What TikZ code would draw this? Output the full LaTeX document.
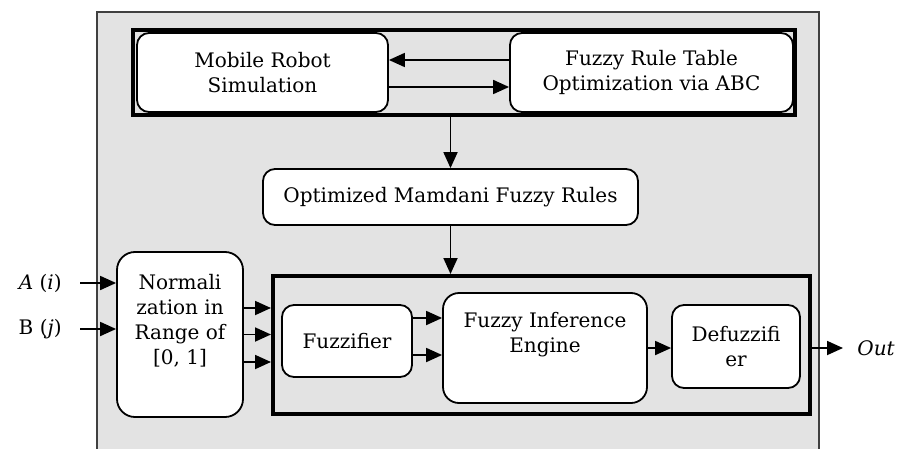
\documentclass[tikz,border=0pt]{standalone}
\usepackage{fontspec}
\setmainfont{DejaVu Serif}
\usetikzlibrary{arrows.meta}
\begin{document}
\begin{tikzpicture}[x=0.5pt, y=-0.5pt,
  font=\fontsize{10}{12.5}\selectfont,
  blk/.style={draw=black, line width=0.9pt, fill=white, rounded corners=6pt, align=center, inner sep=0pt},
  grp/.style={draw=black, line width=2pt, inner sep=0pt},
  arr/.style={line width=0.9pt, -{Triangle[length=8pt,width=7pt]}}]
\useasboundingbox (0,0) rectangle (898,449);
\fill [black!11] (97,12) rectangle (819,449);
\draw [line width=1pt, black!75] (97,449) -- (97,12) -- (819,12) -- (819,449);
\node (sim) at (464,72.5) [grp, minimum width=331pt, minimum height=42.5pt] {};
\node (robot) at (262.5,72.5) [blk, minimum width=125.5pt, minimum height=39.5pt] {Mobile Robot\\Simulation};
\node (table) at (651.5,72.5) [blk, minimum width=141.5pt, minimum height=39.5pt] {Fuzzy Rule Table\\Optimization via ABC};
\node (rules) at (450.5,197) [blk, minimum width=187.5pt, minimum height=28pt] {Optimized Mamdani Fuzzy Rules};
\node (fls) at (541.5,345) [grp, minimum width=268.5pt, minimum height=69pt] {};
\node (norm) at (180,334.5) [blk, rounded corners=9pt, minimum width=63pt, minimum height=82.5pt, text depth=15pt] {Normali\\zation in\\Range of\\{[0, 1]}};
\node (fuzz) at (347,341) [blk, minimum width=65pt, minimum height=36pt] {Fuzzifier};
\node (fie) at (545,348) [blk, rounded corners=8pt, minimum width=102pt, minimum height=55pt, text depth=15.4pt] {Fuzzy Inference\\Engine};
\node (defuzz) at (736,346.5) [blk, minimum width=64pt, minimum height=41.5pt] {Defuzzifi\\er};
\node (ina) at (80,283) [anchor=east, inner xsep=9pt] {\textit{A} (\textit{i})};
\node (inb) at (80,329) [anchor=east, inner xsep=9pt] {B (\textit{j})};
\node (out) at (843,348) [anchor=west, inner xsep=7pt] {\textit{Out}};
\draw [arr] ([yshift=6.25pt]table.west) -- ([yshift=6.25pt]table.west -| robot.east);
\draw [arr] ([yshift=-7.25pt]robot.east) -- ([yshift=-7.25pt]robot.east -| table.west);
\draw [arr] (rules.north |- sim.south) -- (rules.north);
\draw [arr] (rules.south) -- (rules.south |- fls.north);
\draw [arr] (ina.east) -- (ina.east -| norm.west);
\draw [arr] (inb.east) -- (inb.east -| norm.west);
\foreach \dy in {13.25pt, 0pt, -13.75pt}
  \draw [arr] ([yshift=\dy]norm.east) -- ([yshift=\dy]norm.east -| fls.west);
\foreach \dy in {11.5pt, -7pt}
  \draw [arr] ([yshift=\dy]fuzz.east) -- ([yshift=\dy]fuzz.east -| fie.west);
\draw [arr] (fie.east) -- (fie.east -| defuzz.west);
\draw [arr] (fls.east |- out.west) -- (out.west);
\end{tikzpicture}
\end{document}
